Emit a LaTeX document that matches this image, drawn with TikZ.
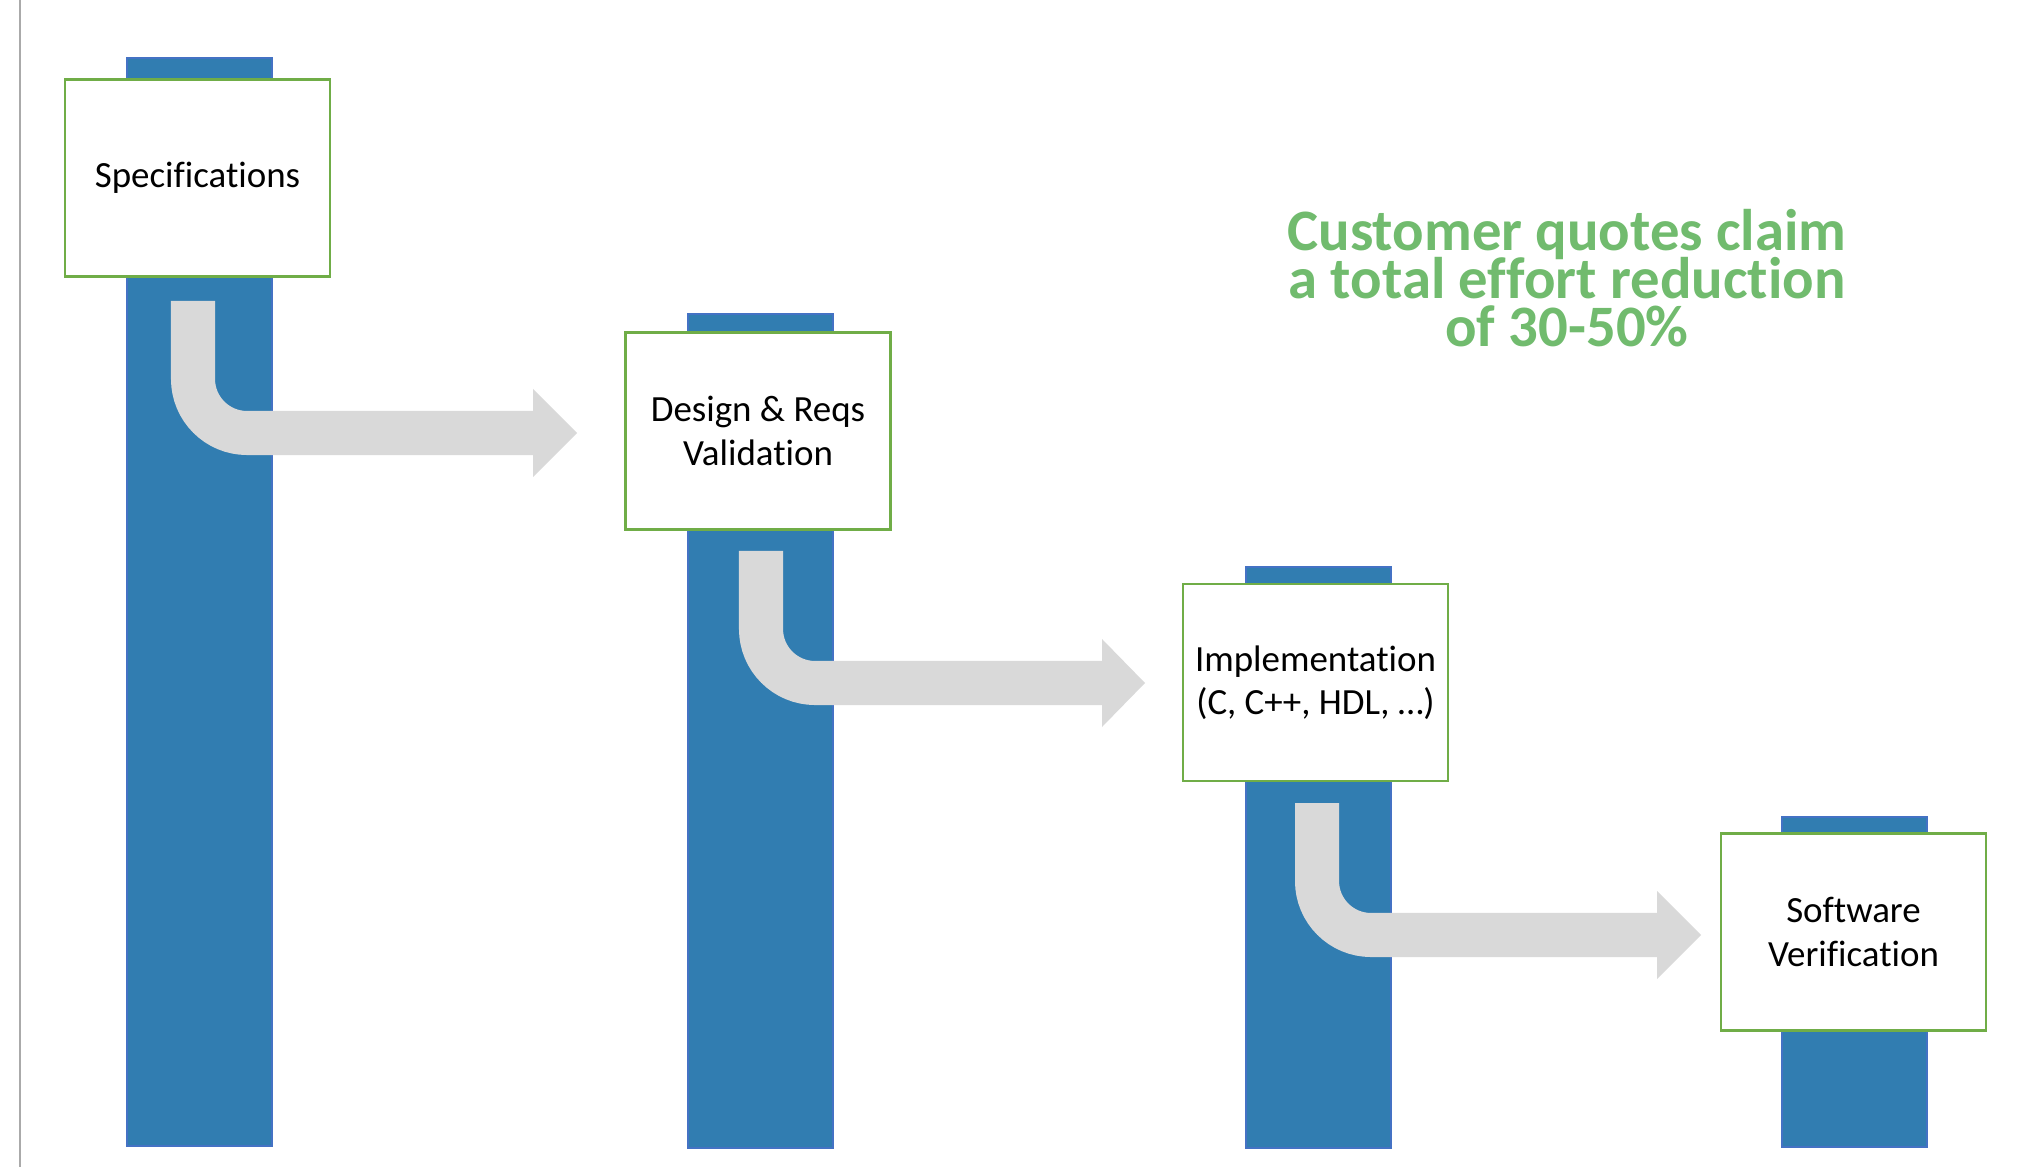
\documentclass[tikz,border=0pt]{standalone}
\usepackage{fontspec}
\setmainfont{Carlito}[Ligatures=NoCommon]

\definecolor{barblue}{RGB}{49,125,177}
\definecolor{barline}{RGB}{68,114,196}
\definecolor{boxgreen}{RGB}{112,173,71}
\definecolor{quotegreen}{RGB}{113,187,110}
\definecolor{flowgray}{RGB}{217,217,217}
\definecolor{rulegray}{RGB}{170,170,170}

\newcommand\quotefont{\fontsize{16.7}{13.7}\selectfont\bfseries\lineskiplimit=-20pt\relax}

\tikzset{
    bar/.style={fill=barblue, draw=barline, line width=0.4pt},
    stage/.style={draw=boxgreen, fill=white, line width=0.7pt,
        minimum width=2.65cm, minimum height=1.97cm, inner sep=0pt,
        align=center, font=\fontsize{10.5}{12.3}\selectfont},
    shaft/.style={draw=flowgray, line width=0.44cm, rounded corners=0.54cm},
    quote/.style={text=quotegreen, align=center, font=\quotefont},
}

\begin{document}
\begin{tikzpicture}[x=0.01cm, y=-0.01cm]
    \useasboundingbox (0,0) rectangle (2036,1167);
    \draw[rulegray, line width=0.4pt] (20,0) -- (20,1167);

    % bars
    \draw[bar] (127,58) rectangle (272,1146);
    \draw[bar] (688,314) rectangle (833,1148);
    \draw[bar] (1246,567) rectangle (1391,1148);
    \draw[bar] (1782,817) rectangle (1927,1147);

    % bent arrows
    \draw[shaft] (193,301) |- (534,433);
    \fill[flowgray] (533,389) -- (577,433) -- (533,477) -- cycle;
    \draw[shaft] (761,551) |- (1103,683);
    \fill[flowgray] (1102,639) -- (1145,683) -- (1102,727) -- cycle;
    \draw[shaft] (1317,803) |- (1658,935);
    \fill[flowgray] (1657,891) -- (1701,935) -- (1657,979) -- cycle;

    % stages
    \node[stage] (spec) at (197.5,178) {Specifications};
    \node[stage] (design) at (758,431) {Design \& Reqs\\Validation};
    \node[stage] (impl) at (1315.5,682.5) {Implementation\\(C, C++, HDL, …)};
    \node[stage] (verif) at (1853.5,932) {Software\\Verification};

    \node[quote, anchor=base] (claim) at (1567,347)
        {Customer quotes claim\\a total effort reduction\\of 30-50\%};
\end{tikzpicture}
\end{document}
